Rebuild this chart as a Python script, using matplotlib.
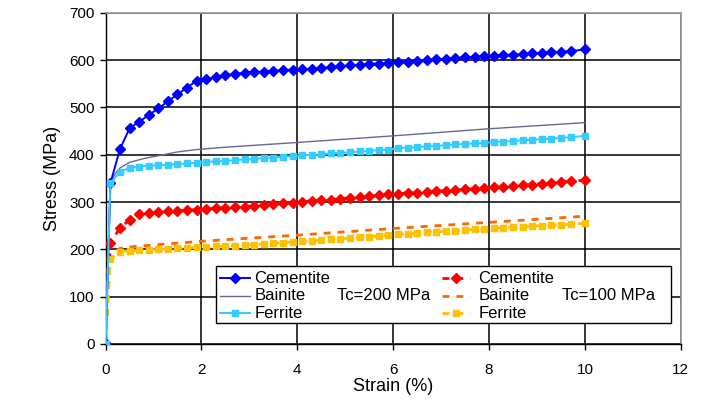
import matplotlib
matplotlib.use("Agg")
import matplotlib.pyplot as plt
from matplotlib.lines import Line2D
from matplotlib.patches import Rectangle

plt.rcParams['font.family'] = ['Liberation Sans', 'DejaVu Sans']

# ---- data ----
strain = [0, 0.1, 0.3, 0.5, 0.7, 0.9, 1.1, 1.3, 1.5, 1.7, 1.9,
          2.1, 2.3, 2.5, 2.7, 2.9, 3.1, 3.3, 3.5, 3.7, 3.9,
          4.1, 4.3, 4.5, 4.7, 4.9, 5.1, 5.3, 5.5, 5.7, 5.9,
          6.1, 6.3, 6.5, 6.7, 6.9, 7.1, 7.3, 7.5, 7.7, 7.9,
          8.1, 8.3, 8.5, 8.7, 8.9, 9.1, 9.3, 9.5, 9.7, 10]

cementite_200 = [0, 340, 412, 456, 470, 484, 498, 513, 528, 542, 557,
                 561, 564, 568, 571, 573, 575, 576, 577, 579, 580,
                 581, 582, 584, 585, 587, 589, 590, 592, 593, 595,
                 596, 597, 599, 601, 602, 603, 605, 606, 607, 609,
                 610, 611, 612, 613, 615, 615, 617, 618, 619, 623]

ferrite_200 = [0, 340, 364, 372, 375, 377, 378, 379, 380, 382, 383,
               385, 386, 387, 389, 390, 391, 393, 394, 396, 397,
               399, 400, 401, 403, 404, 405, 407, 408, 410, 411,
               414, 415, 416, 418, 419, 420, 422, 423, 424, 425,
               427, 428, 429, 431, 432, 433, 434, 436, 437, 440]

bainite_200_x = [0, 0.1, 0.2, 0.3, 0.5, 0.8, 1.2, 1.5, 1.9, 2.5, 4, 6, 8, 10]
bainite_200 = [0, 340, 360, 372, 384, 392, 400, 406, 411, 416, 426, 440, 455, 468]

cementite_100 = [0, 213, 245, 262, 275, 277, 278, 280, 281, 283, 284,
                 286, 287, 288, 289, 290, 292, 294, 295, 297, 299,
                 301, 302, 304, 305, 307, 309, 310, 312, 314, 316,
                 318, 319, 320, 322, 323, 324, 325, 327, 328, 330,
                 331, 332, 334, 336, 337, 339, 340, 342, 344, 346]

ferrite_100 = [0, 180, 195, 197, 198, 199, 200, 201, 202, 203, 204,
               205, 206, 207, 208, 209, 210, 211, 213, 214, 215,
               217, 218, 219, 221, 222, 224, 225, 227, 228, 230,
               232, 233, 234, 236, 237, 238, 239, 241, 242, 243,
               245, 246, 247, 248, 249, 250, 251, 252, 253, 255]

bainite_100_x = [0, 0.05, 0.1, 0.3, 0.6, 1, 2, 4, 6, 8, 10]
bainite_100 = [0, 170, 190, 202, 206, 209, 217, 230, 244, 257, 270]

labels = ["Cementite", "Bainite", "Ferrite"]
tc_labels = ["Tc=200 MPa", "Tc=100 MPa"]

# ---- styles ----
c_blue = "#0000FF"
c_bain = "#666699"
c_cyan = "#33CCFF"
c_red = "#FF0000"
c_orange = "#FF6600"
c_yellow = "#FFC000"
dash = (0, (2.5, 2.5))

fig = plt.figure(figsize=(7.04, 4.05), dpi=100)
ax = fig.add_axes([0.150, 0.151, 0.817, 0.817])

styles_200 = [dict(color=c_blue, lw=1.4, marker='D', ms=5, mec=c_blue, mfc=c_blue),
              dict(color=c_bain, lw=1.0),
              dict(color=c_cyan, lw=1.4, marker='s', ms=5, mec=c_cyan, mfc=c_cyan)]
styles_100 = [dict(color=c_red, lw=2.0, ls=dash, marker='D', ms=5, mec=c_red, mfc=c_red),
              dict(color=c_orange, lw=2.0, ls=dash),
              dict(color=c_yellow, lw=2.0, ls=dash, marker='s', ms=5, mec=c_yellow, mfc=c_yellow)]

ax.plot(strain, cementite_200, zorder=6, **styles_200[0])
ax.plot(bainite_200_x, bainite_200, zorder=5, **styles_200[1])
ax.plot(strain, ferrite_200, zorder=6, **styles_200[2])
ax.plot(strain, cementite_100, zorder=4, **styles_100[0])
ax.plot(bainite_100_x, bainite_100, zorder=3, **styles_100[1])
ax.plot(strain, ferrite_100, zorder=4, **styles_100[2])

ax.set_xlim(0, 12)
ax.set_ylim(0, 700)
ax.set_xticks(range(0, 13, 2))
ax.set_yticks(range(0, 701, 100))
ax.grid(True, color='black', lw=1.1)
ax.set_axisbelow(True)
ax.tick_params(labelsize=11, length=4.5, width=1, color='black', direction='out')
ax.tick_params(axis='x', pad=9)
for s in ['top', 'right']:
    ax.spines[s].set_color('#999999')
    ax.spines[s].set_linewidth(1.2)
for s in ['left', 'bottom']:
    ax.spines[s].set_color('black')
    ax.spines[s].set_linewidth(1.0)

ax.set_xlabel("Strain (%)", fontsize=13, labelpad=1)
ax.set_ylabel("Stress (MPa)", fontsize=13, labelpad=6)

# ---- legend (drawn in axes fraction coordinates) ----
frame = Rectangle((0.192, 0.064), 0.791, 0.171, transform=ax.transAxes,
                  facecolor='white', edgecolor='black', lw=1.0, zorder=10)
ax.add_patch(frame)
row_y = [0.198, 0.145, 0.092]
cols = [(0.199, 0.251, 0.2585, styles_200, 0.4018, tc_labels[0]),
        (0.585, 0.634, 0.6479, styles_100, 0.794, tc_labels[1])]
for hx0, hx1, tx, styles, tcx, tct in cols:
    for y, lab, st in zip(row_y, labels, styles):
        st_line = {k: v for k, v in st.items() if k not in ('marker', 'ms', 'mec', 'mfc')}
        ax.add_line(Line2D([hx0, hx1], [y, y], transform=ax.transAxes,
                           zorder=11, **st_line))
        if 'marker' in st:
            ax.add_line(Line2D([(hx0 + hx1) / 2], [y], transform=ax.transAxes,
                               ls='none', marker=st['marker'], ms=st['ms'],
                               mec=st['mec'], mfc=st['mfc'], zorder=12))
        ax.text(tx, y, lab, transform=ax.transAxes, fontsize=12,
                va='center', ha='left', zorder=12)
    ax.text(tcx, row_y[1], tct, transform=ax.transAxes, fontsize=12,
            va='center', ha='left', zorder=12)

fig.savefig("out.png", dpi=100)
